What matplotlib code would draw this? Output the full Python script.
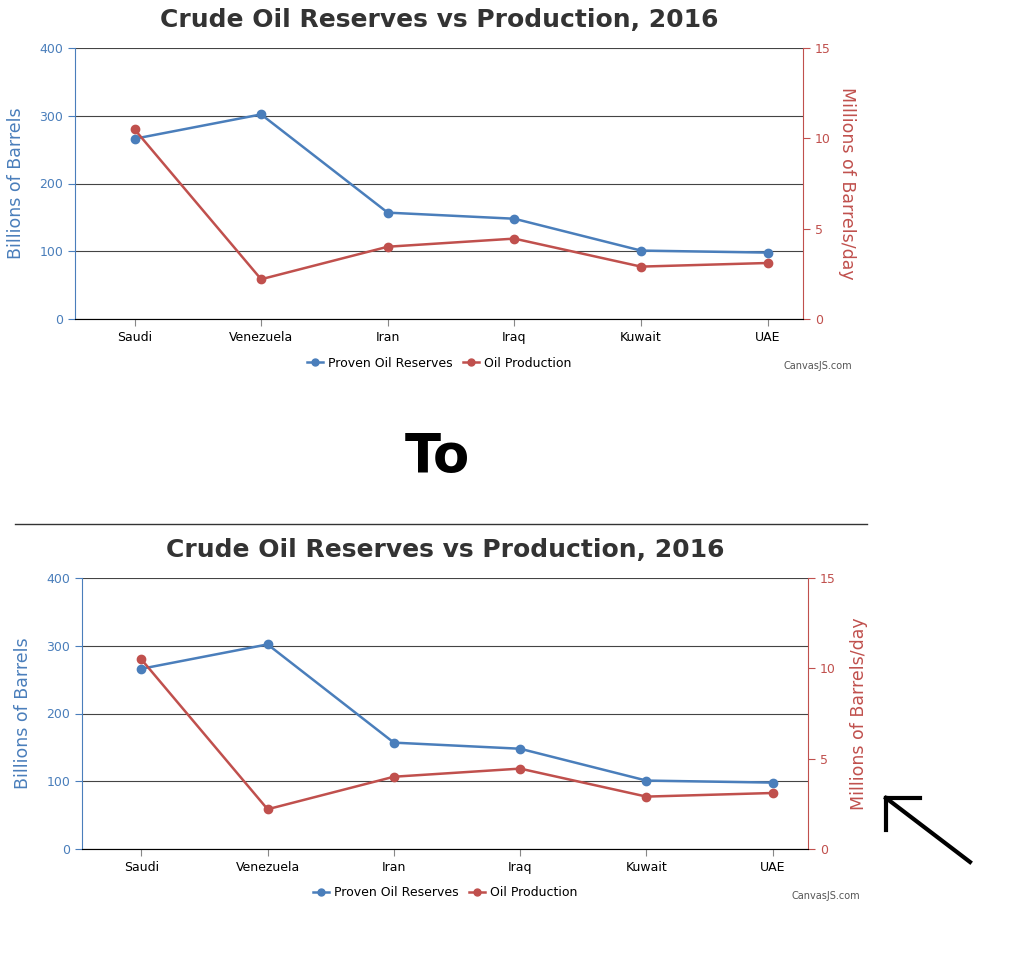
import matplotlib.pyplot as plt
from matplotlib.lines import Line2D

countries = ["Saudi", "Venezuela", "Iran", "Iraq", "Kuwait", "UAE"]
reserves = [266, 302, 157, 148, 101, 98]
production = [10.5, 2.2, 4.0, 4.45, 2.9, 3.1]

blue = "#4a7ebb"
red = "#c0504d"
W, H = 1010, 958

fig = plt.figure(figsize=(W / 100, H / 100), dpi=100)


def draw_chart(x0, x1, y0, y1, title_y, right_rot, legend_y, credit_x):
    ax = fig.add_axes([x0 / W, 1 - y1 / H, (x1 - x0) / W, (y1 - y0) / H])
    ax2 = ax.twinx()
    xs = range(len(countries))
    ax.plot(xs, reserves, color=blue, marker="o", ms=6, lw=1.8, zorder=3)
    ax2.plot(xs, production, color=red, marker="o", ms=6, lw=1.8, zorder=3)
    ax.set_xlim(-0.47, 5.28)
    ax.set_ylim(0, 400)
    ax2.set_ylim(0, 15)
    ax.set_yticks([0, 100, 200, 300, 400])
    ax2.set_yticks([0, 5, 10, 15])
    ax.set_xticks(list(xs))
    ax.set_xticklabels(countries, fontsize=9)
    ax.yaxis.grid(True, color="#444444", lw=0.8)
    ax.set_axisbelow(True)
    for a in (ax, ax2):
        a.spines["top"].set_visible(False)
    ax.spines["right"].set_visible(False)
    ax.spines["left"].set_color(blue)
    ax2.spines["left"].set_visible(False)
    ax2.spines["right"].set_color(red)
    ax.spines["bottom"].set_color("#888888")
    ax.tick_params(axis="y", colors=blue, labelsize=9, length=5)
    ax.tick_params(axis="x", colors="#888888", labelcolor="black", length=5)
    ax2.tick_params(axis="y", colors=red, labelsize=9, length=5)
    ax.set_ylabel("Billions of Barrels", color=blue, fontsize=12.5, labelpad=10)
    ax2.set_ylabel("Millions of Barrels/day", color=red, fontsize=12.5,
                   rotation=right_rot, labelpad=18 if right_rot == 270 else 10)
    fig.text((x0 + x1) / 2 / W, 1 - title_y / H, "Crude Oil Reserves vs Production, 2016",
             ha="center", va="center", fontsize=18, fontweight="bold", color="#333333")
    handles = [Line2D([], [], color=blue, marker="o", ms=5, lw=1.8),
               Line2D([], [], color=red, marker="o", ms=5, lw=1.8)]
    fig.legend(handles, ["Proven Oil Reserves", "Oil Production"], loc="center",
               bbox_to_anchor=((x0 + x1) / 2 / W, 1 - legend_y / H), ncol=2,
               frameon=False, fontsize=9, handlelength=1.3, columnspacing=0.8,
               handletextpad=0.4)
    fig.text(credit_x / W, 1 - (legend_y + 3) / H, "CanvasJS.com", ha="right",
             va="center", fontsize=7, color="#555555")


draw_chart(75, 803, 48, 319, 20, 270, 363, 852)
draw_chart(82, 808, 578, 849, 550, 90, 893, 860)

fig.text(437 / W, 1 - 457 / H, "To", ha="center", va="center", fontsize=38,
         fontweight="bold", color="black")
fig.add_artist(Line2D([15 / W, 867 / W], [1 - 524 / H, 1 - 524 / H], color="#333333", lw=1))
fig.add_artist(Line2D([970 / W, 886 / W], [1 - 862 / H, 1 - 798 / H], color="black", lw=3))
fig.add_artist(Line2D([886 / W, 886 / W], [1 - 798 / H, 1 - 830 / H], color="black", lw=3))
fig.add_artist(Line2D([886 / W, 920 / W], [1 - 798 / H, 1 - 798 / H], color="black", lw=3))

fig.savefig("out.png", dpi=100, facecolor="white")
